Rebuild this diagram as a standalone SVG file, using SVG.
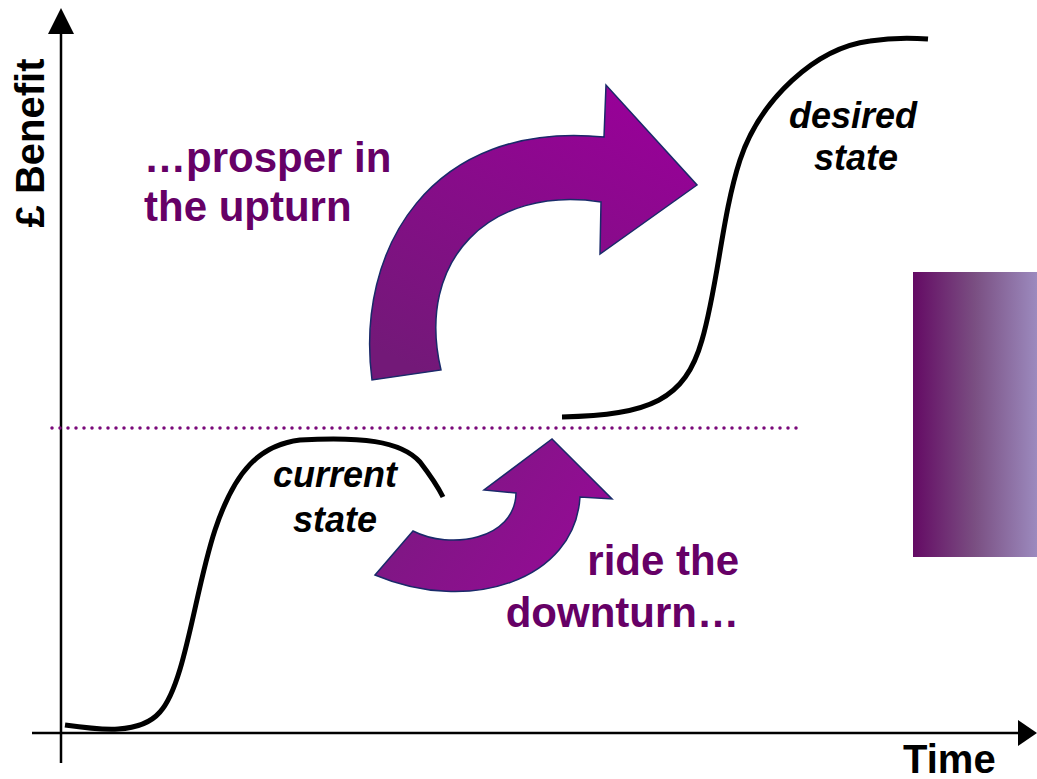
<svg xmlns="http://www.w3.org/2000/svg" width="1037" height="779" viewBox="0 0 1037 779">
<style>
.lbl{font-family:"Liberation Sans",Arial,sans-serif;font-weight:bold;font-size:42px;fill:#660066}
.st{font-family:"Liberation Sans",Arial,sans-serif;font-weight:bold;font-style:italic;font-size:36px;fill:#000}
.ax{font-family:"Liberation Sans",Arial,sans-serif;font-weight:bold;font-size:40px;fill:#000}
.axis{stroke:#000;stroke-width:2.5;fill:none}
.curve{stroke:#000;stroke-width:5;fill:none;stroke-linecap:butt}
.arr{stroke:#1a2a6a;stroke-width:1.5;stroke-linejoin:miter}
</style>
<defs>
<linearGradient id="gBig" x1="0.8" y1="0" x2="0.2" y2="1">
<stop offset="0" stop-color="#990099"/>
<stop offset="1" stop-color="#731978"/>
</linearGradient>
<linearGradient id="gSmall" x1="0" y1="0.3" x2="1" y2="0.7">
<stop offset="0" stop-color="#7a1a80"/>
<stop offset="1" stop-color="#960a96"/>
</linearGradient>
<linearGradient id="gRect" x1="0" y1="0" x2="1" y2="0">
<stop offset="0" stop-color="#640a64"/>
<stop offset="0.5" stop-color="#7a4f82"/>
<stop offset="1" stop-color="#9c8abe"/>
</linearGradient>
</defs>
<rect width="1037" height="779" fill="#fff"/>
<g id="axes">
<line class="axis" x1="61" y1="763" x2="61" y2="30"/>
<polygon points="61,8 48,34 74,34" fill="#000"/>
<line class="axis" x1="32" y1="733" x2="1018" y2="733"/>
<polygon points="1037,733 1018,720 1018,746" fill="#000"/>
<text class="ax" x="903" y="773">Time</text>
<text class="ax" transform="translate(44,143) rotate(-90)" text-anchor="middle">£ Benefit</text>
</g>
<g id="connectors">
<line x1="52" y1="428" x2="800" y2="428" stroke="#7a0a7a" stroke-width="3.5" stroke-linecap="round" stroke-dasharray="0 8"/>
</g>
<g id="current-state">
<path class="curve" d="M65,725 C100,730 140,735 160,712 C185,685 195,590 215,530 C235,470 260,445 300,440 C360,437 400,440 420,462 C430,475 438,487 443,497"/>
<text class="st" x="335" y="487" text-anchor="middle">current</text>
<text class="st" x="335" y="532" text-anchor="middle">state</text>
</g>
<g id="desired-state">
<path class="curve" d="M562,417 C650,415 685,400 702,340 C718,285 722,215 740,160 C760,100 815,48 870,41 C895,37 915,38 928,39"/>
<text class="st" x="853" y="128" text-anchor="middle">desired</text>
<text class="st" x="856" y="170" text-anchor="middle">state</text>
</g>
<g id="upturn-arrow">
<path class="arr" fill="url(#gBig)" d="M372,380 C355,250 430,120 604,137 L606,85 L697,185 L600,254 L601,202 C490,185 415,260 441,370 Z"/>
<text class="lbl" x="144" y="172">…prosper in</text>
<text class="lbl" x="144" y="221">the upturn</text>
</g>
<g id="downturn-arrow">
<path class="arr" fill="url(#gSmall)" d="M375,575 L413,531 C450,550 515,540 516,493 L484,490 L552,439 L612,499 L580,497 C575,580 470,615 375,575 Z"/>
<text class="lbl" x="739" y="575" text-anchor="end">ride the</text>
<text class="lbl" x="739" y="627" text-anchor="end">downturn…</text>
</g>
<g id="gradient-box">
<rect x="913" y="272" width="124" height="285" fill="url(#gRect)"/>
</g>
</svg>
